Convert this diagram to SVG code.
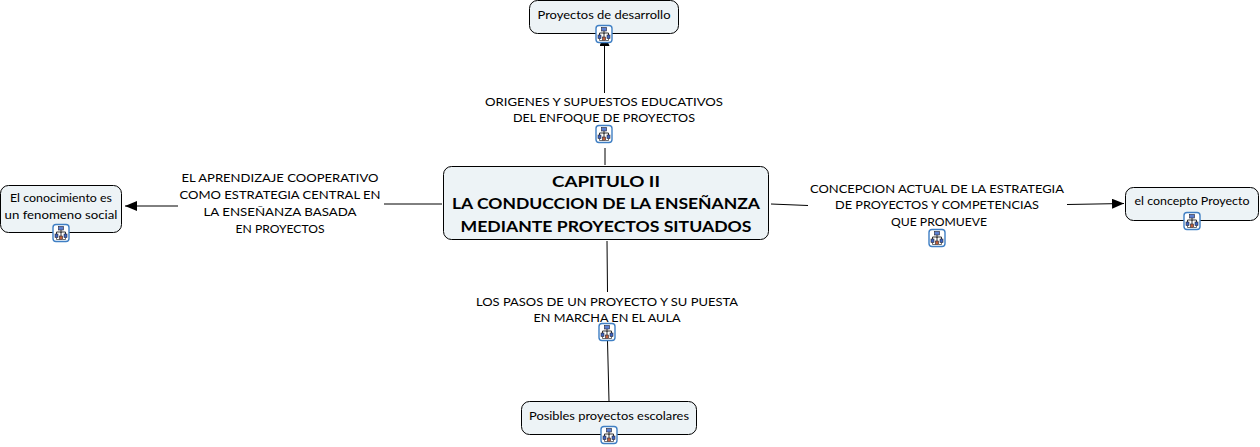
<svg xmlns="http://www.w3.org/2000/svg" width="1260" height="447" viewBox="0 0 1260 447">
<style>
text{font-family:"Lato","Liberation Sans",sans-serif;font-size:12px;fill:#000;text-anchor:middle}
.t{font-size:16px;font-weight:700}
.n{fill:#edf3f6;stroke:#000;stroke-width:1}
.c{fill:none;stroke:#000;stroke-width:1}
</style>
<defs>
<marker id="a" markerUnits="userSpaceOnUse" markerWidth="14" markerHeight="12" refX="12" refY="5" orient="auto"><path d="M0 0L12 5L0 10Z" fill="#000"/></marker>
<g id="i">
<rect x="-8" y="-8.500" width="16" height="17" rx="3" fill="#fff" stroke="#3f7fc4" stroke-width="1.400"/>
<path d="M0-3V0M-4.500 1V-1H4.500V1M0-1V3" fill="none" stroke="#333" stroke-width="1"/>
<rect x="-2.500" y="-6.500" width="5" height="3.500" fill="#5b7fd0" stroke="#223" stroke-width=".6"/>
<rect x="-6" y="1" width="3" height="3.500" fill="#3f66c0" stroke="#223" stroke-width=".6"/>
<rect x="-1.500" y="3" width="3" height="3.500" fill="#c0603a" stroke="#223" stroke-width=".6"/>
<rect x="3" y="1" width="3" height="3.500" fill="#3f66c0" stroke="#223" stroke-width=".6"/>
<path d="M-4.500 4.500V6.500H-1.500M4.500 4.500V6.500H1.500" fill="none" stroke="#333" stroke-width=".7"/>
</g>
</defs>
<g id="connectors">
<path class="c" d="M605 165V148"/>
<path class="c" d="M604.500 93V34" marker-end="url(#a)"/>
<path class="c" d="M442 204H384"/>
<path class="c" d="M178 206H125" marker-end="url(#a)"/>
<path class="c" d="M771 204L808 205.500"/>
<path class="c" d="M1067 204.500L1124 203.500" marker-end="url(#a)"/>
<path class="c" d="M607 241L607.500 292"/>
<path class="c" d="M607.500 341L609 401"/>
</g>
<g id="node-center"><rect class="n" x="443.500" y="166.500" width="325" height="73" rx="8"/>
<text class="t" x="606" y="187" textLength="108" lengthAdjust="spacingAndGlyphs">CAPITULO II</text>
<text class="t" x="606" y="209" textLength="308" lengthAdjust="spacingAndGlyphs">LA CONDUCCION DE LA ENSEÑANZA</text>
<text class="t" x="606" y="232" textLength="291" lengthAdjust="spacingAndGlyphs">MEDIANTE PROYECTOS SITUADOS</text></g>
<g id="node-desarrollo"><rect class="n" x="529.500" y="0.500" width="149" height="33" rx="8"/>
<text x="604" y="19" textLength="133" lengthAdjust="spacingAndGlyphs">Proyectos de desarrollo</text><use href="#i" x="604" y="34"/></g>
<g id="node-conocimiento"><rect class="n" x="0.500" y="185.500" width="121" height="47" rx="8"/>
<text x="61" y="202" textLength="102" lengthAdjust="spacingAndGlyphs">El conocimiento es</text>
<text x="61" y="219" textLength="113" lengthAdjust="spacingAndGlyphs">un fenomeno social</text><use href="#i" x="61" y="233"/></g>
<g id="node-concepto"><rect class="n" x="1125.500" y="187.500" width="133" height="33" rx="8"/>
<text x="1192" y="205" textLength="115" lengthAdjust="spacingAndGlyphs">el concepto Proyecto</text><use href="#i" x="1192" y="221"/></g>
<g id="node-posibles"><rect class="n" x="521.500" y="401.500" width="175" height="33" rx="8"/>
<text x="609" y="420" textLength="160" lengthAdjust="spacingAndGlyphs">Posibles proyectos escolares</text><use href="#i" x="609" y="435"/></g>
<g id="link-origenes">
<text x="604" y="106" textLength="238" lengthAdjust="spacingAndGlyphs">ORIGENES Y SUPUESTOS EDUCATIVOS</text>
<text x="604" y="122" textLength="182" lengthAdjust="spacingAndGlyphs">DEL ENFOQUE DE PROYECTOS</text><use href="#i" x="604" y="134"/></g>
<g id="link-aprendizaje">
<text x="280" y="182" textLength="197" lengthAdjust="spacingAndGlyphs">EL APRENDIZAJE COOPERATIVO</text>
<text x="280" y="199" textLength="201" lengthAdjust="spacingAndGlyphs">COMO ESTRATEGIA CENTRAL EN</text>
<text x="280" y="216" textLength="153" lengthAdjust="spacingAndGlyphs">LA ENSEÑANZA BASADA</text>
<text x="280" y="233" textLength="89" lengthAdjust="spacingAndGlyphs">EN PROYECTOS</text></g>
<g id="link-concepcion">
<text x="937" y="193" textLength="254" lengthAdjust="spacingAndGlyphs">CONCEPCION ACTUAL DE LA ESTRATEGIA</text>
<text x="937" y="209" textLength="204" lengthAdjust="spacingAndGlyphs">DE PROYECTOS Y COMPETENCIAS</text>
<text x="939" y="226" textLength="96" lengthAdjust="spacingAndGlyphs">QUE PROMUEVE</text><use href="#i" x="937" y="238"/></g>
<g id="link-pasos">
<text x="607" y="306" textLength="262" lengthAdjust="spacingAndGlyphs">LOS PASOS DE UN PROYECTO Y SU PUESTA</text>
<text x="607" y="322" textLength="147" lengthAdjust="spacingAndGlyphs">EN MARCHA EN EL AULA</text><use href="#i" x="607" y="332"/></g>
</svg>
